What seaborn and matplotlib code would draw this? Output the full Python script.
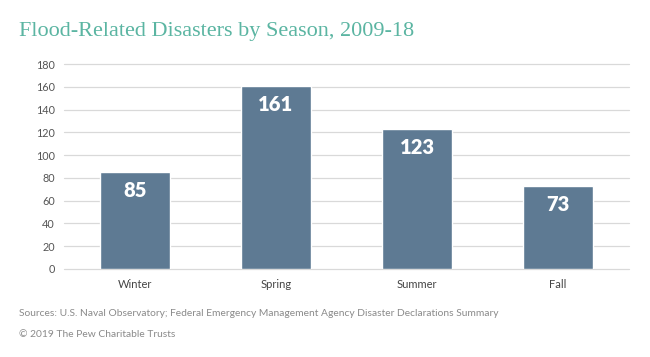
import matplotlib
matplotlib.use("Agg")
import matplotlib.pyplot as plt
import seaborn as sns
import pandas as pd

seasons = ["Winter", "Spring", "Summer", "Fall"]
disasters = [85, 161, 123, 73]
yticks = [0, 20, 40, 60, 80, 100, 120, 140, 160, 180]

title = "Flood-Related Disasters by Season, 2009-18"
source = "Sources: U.S. Naval Observatory; Federal Emergency Management Agency Disaster Declarations Summary"
credit = "\u00a9 2019 The Pew Charitable Trusts"

sns.set_theme(style="white")
plt.rcParams['font.family'] = ['Lato', 'DejaVu Sans']

df = pd.DataFrame({"season": seasons, "count": disasters})

fig = plt.figure(figsize=(6.5, 3.57), dpi=100)
ax = fig.add_axes([0.0992, 0.2465, 0.8678, 0.5742])

bar_color = "#5E7A93"
sns.barplot(data=df, x="season", y="count", color=bar_color, width=0.5,
            saturation=1, ax=ax, zorder=3)

ax.set_ylim(0, 180)
ax.set_xlim(-0.5, 3.5)
ax.set_yticks(yticks)
ax.set_yticklabels([str(t) for t in yticks], color="#555555", fontsize=7.8)
ax.tick_params(axis="x", labelsize=8, labelcolor="#444444", length=0, pad=7)
ax.tick_params(axis="y", length=0, pad=7)
ax.yaxis.grid(True, color="#d9d9d9", linewidth=0.9, zorder=0)
for gl in ax.get_ygridlines():
    gl.set_clip_on(False)
ax.set_xlabel("")
ax.set_ylabel("")
for s in ax.spines.values():
    s.set_visible(False)

for p, v in zip(ax.patches, disasters):
    ax.text(p.get_x() + p.get_width() / 2, v - 8, str(v), ha="center", va="top",
            color="white", fontsize=14.5, fontweight="heavy", zorder=4)

fig.text(0.029, 0.912, title, color="#5BB5A2", fontsize=16,
         family=["Liberation Serif", "DejaVu Serif"], va="center", ha="left")
fig.text(0.029, 0.121, source, color="#8a8a8a", fontsize=7.4, va="center", ha="left")
fig.text(0.029, 0.063, credit, color="#8a8a8a", fontsize=7.4, va="center", ha="left")

fig.savefig("out.png", dpi=100)
